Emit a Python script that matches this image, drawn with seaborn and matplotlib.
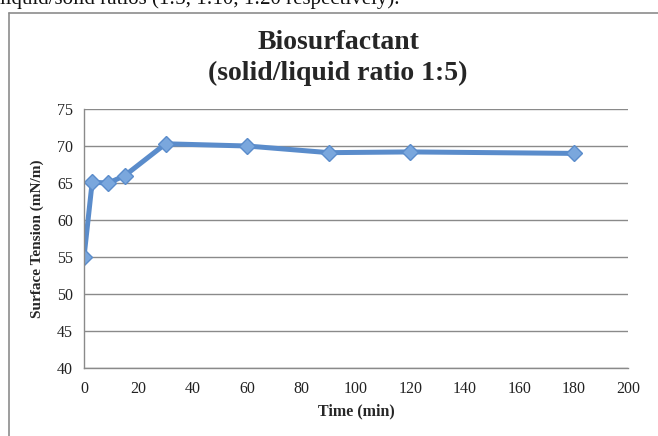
import matplotlib
matplotlib.use("Agg")
import matplotlib.pyplot as plt
import seaborn as sns
import pandas as pd
from matplotlib.lines import Line2D

time_min = [0, 3, 9, 15, 30, 60, 90, 120, 180]
surface_tension = [55.0, 65.1, 65.0, 66.0, 70.3, 70.0, 69.1, 69.2, 69.0]
x_ticks = [0, 20, 40, 60, 80, 100, 120, 140, 160, 180, 200]
y_ticks = [40, 45, 50, 55, 60, 65, 70, 75]

df = pd.DataFrame({"Time (min)": time_min, "Surface Tension (mN/m)": surface_tension})

sns.set_theme(style="white")
plt.rcParams["font.family"] = ["Liberation Serif", "DejaVu Serif"]

W, H = 658, 436
fig = plt.figure(figsize=(W / 100, H / 100), dpi=100)
ax = fig.add_axes([84 / W, 1 - 368 / H, 544 / W, 259 / H])

sns.lineplot(data=df, x="Time (min)", y="Surface Tension (mN/m)", ax=ax,
             color="#5a8ccb", linewidth=3.6, marker="D", markersize=8,
             markerfacecolor="#7aa7dd", markeredgecolor="#5a8ccb", markeredgewidth=1)

ax.set_xlim(0, 200)
ax.set_ylim(40, 75)
ax.set_xticks(x_ticks)
ax.set_yticks(y_ticks)
ax.tick_params(axis="both", labelsize=11.5, length=0, colors="#222222")
ax.tick_params(axis="x", pad=9)
ax.tick_params(axis="y", pad=8)
ax.yaxis.grid(True, color="#8a8a8a", linewidth=1)
ax.xaxis.grid(False)
for s in ["top", "right"]:
    ax.spines[s].set_visible(False)
for s in ["left", "bottom"]:
    ax.spines[s].set_color("#8a8a8a")
    ax.spines[s].set_linewidth(1)

ax.set_xlabel("Time (min)", fontsize=11.5, fontweight="bold", labelpad=5)
ax.set_ylabel("Surface Tension (mN/m)", fontsize=11, fontweight="bold", labelpad=9)

fig.text(338 / W, 1 - 58 / H, "Biosurfactant\n(solid/liquid ratio 1:5)",
         ha="center", va="center", fontsize=20, fontweight="bold", linespacing=1.3)

# partially visible caption at top (cropped)
fig.text(0 / W, 1 - 4 / H, "liquid/solid ratios (1:5, 1:10, 1:20 respectively).",
         ha="left", va="baseline", fontsize=15, color="#111111")

# chart frame
fig.add_artist(Line2D([9 / W, 9 / W], [0, 1 - 13 / H], transform=fig.transFigure,
                      color="#8c8c8c", linewidth=1.2))
fig.add_artist(Line2D([9 / W, 1], [1 - 13 / H, 1 - 13 / H], transform=fig.transFigure,
                      color="#8c8c8c", linewidth=1.2))

fig.savefig("out.png", dpi=100)
